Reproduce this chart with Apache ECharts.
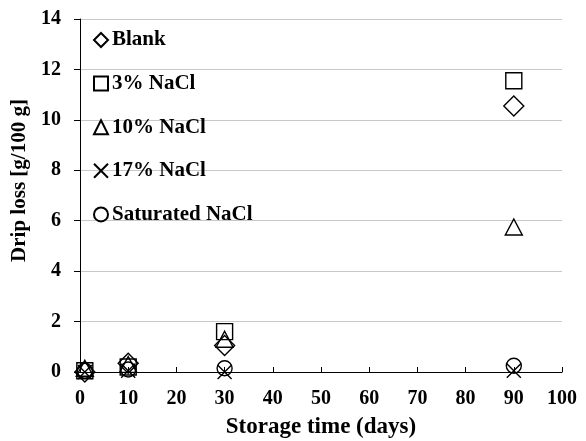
<!DOCTYPE html>
<html><head><meta charset="utf-8">
<script src="https://cdn.jsdelivr.net/npm/echarts@6/dist/echarts.min.js"></script>
<style>html,body{margin:0;padding:0;background:#fff}#c{width:586px;height:441px}</style>
</head><body><div id="c"></div>
<script>
const days = [1, 10, 30, 90];
const seriesNames = ['Blank', '3% NaCl', '10% NaCl', '17% NaCl', 'Saturated NaCl'];
const blank = [0.0, 0.35, 1.05, 10.55];
const nacl3 = [0.05, 0.2, 1.6, 11.55];
const nacl10 = [0.15, 0.3, 1.3, 5.75];
const nacl17 = [0.0, 0.05, 0.0, 0.05];
const saturated = [0.05, 0.1, 0.15, 0.25];
const xTicks = [0,10,20,30,40,50,60,70,80,90,100];
const yTicks = [0,2,4,6,8,10,12,14];

const values = [blank, nacl3, nacl10, nacl17, saturated];
const symbols = [
  'path://M5,0L10,5L5,10L0,5Z',
  'rect',
  'triangle',
  'path://M0,0L10,10M10,0L0,10',
  'circle'
];
const sizes = [[20,20],[16,16],[17,16],[14,14],[15,15]];
const font = '"Liberation Serif", "Times New Roman", serif';

const chart = echarts.init(document.getElementById('c'), null, {renderer:'canvas'});
chart.setOption({
  animation:false,
  backgroundColor:'#fff',
  grid:{left:80, right:24, top:19, bottom:69, containLabel:false, outerBoundsMode:'none'},
  legend:{
    orient:'vertical', left:88, top:24, itemGap:21.6, itemWidth:14, itemHeight:14,
    data: seriesNames,
    textStyle:{fontFamily:font, fontWeight:'bold', fontSize:21, lineHeight:22, color:'#000', padding:[0,0,0,-1]}
  },
  xAxis:{
    type:'value', min:0, max:100, interval:10,
    name:'Storage time (days)', nameLocation:'middle', nameGap:44,
    nameTextStyle:{fontFamily:font, fontWeight:'bold', fontSize:23, color:'#000'},
    axisLine:{show:true, lineStyle:{color:'#000', width:1}},
    axisTick:{show:true, inside:true, length:5, lineStyle:{color:'#000'}},
    axisLabel:{fontFamily:font, fontWeight:'bold', fontSize:20, color:'#000', margin:17,
      formatter: v => xTicks.includes(v) ? String(v) : ''},
    splitLine:{show:false}
  },
  yAxis:{
    type:'value', min:0, max:14, interval:2,
    name:'Drip loss [g/100 g]', nameLocation:'middle', nameGap:45, nameRotate:90,
    nameTextStyle:{fontFamily:font, fontWeight:'bold', fontSize:21, color:'#000', padding:[0,0,0,30]},
    axisLine:{show:true, lineStyle:{color:'#000', width:1}},
    axisTick:{show:true, inside:false, length:6, lineStyle:{color:'#000'}},
    axisLabel:{fontFamily:font, fontWeight:'bold', fontSize:20, color:'#000', margin:19,
      formatter: v => yTicks.includes(v) ? String(v) : ''},
    splitLine:{show:true, lineStyle:{color:'#c8c8c8', width:1}}
  },
  series: seriesNames.map((n,i)=>({
    name:n, type:'scatter', symbol:symbols[i], symbolSize:sizes[i],
    data: days.map((d,j)=>[d, values[i][j]]),
    itemStyle:{color:'rgba(255,255,255,0)', borderColor:'#000', borderWidth:1.4, opacity:1},
    emphasis:{disabled:true}
  }))
});
</script></body></html>
